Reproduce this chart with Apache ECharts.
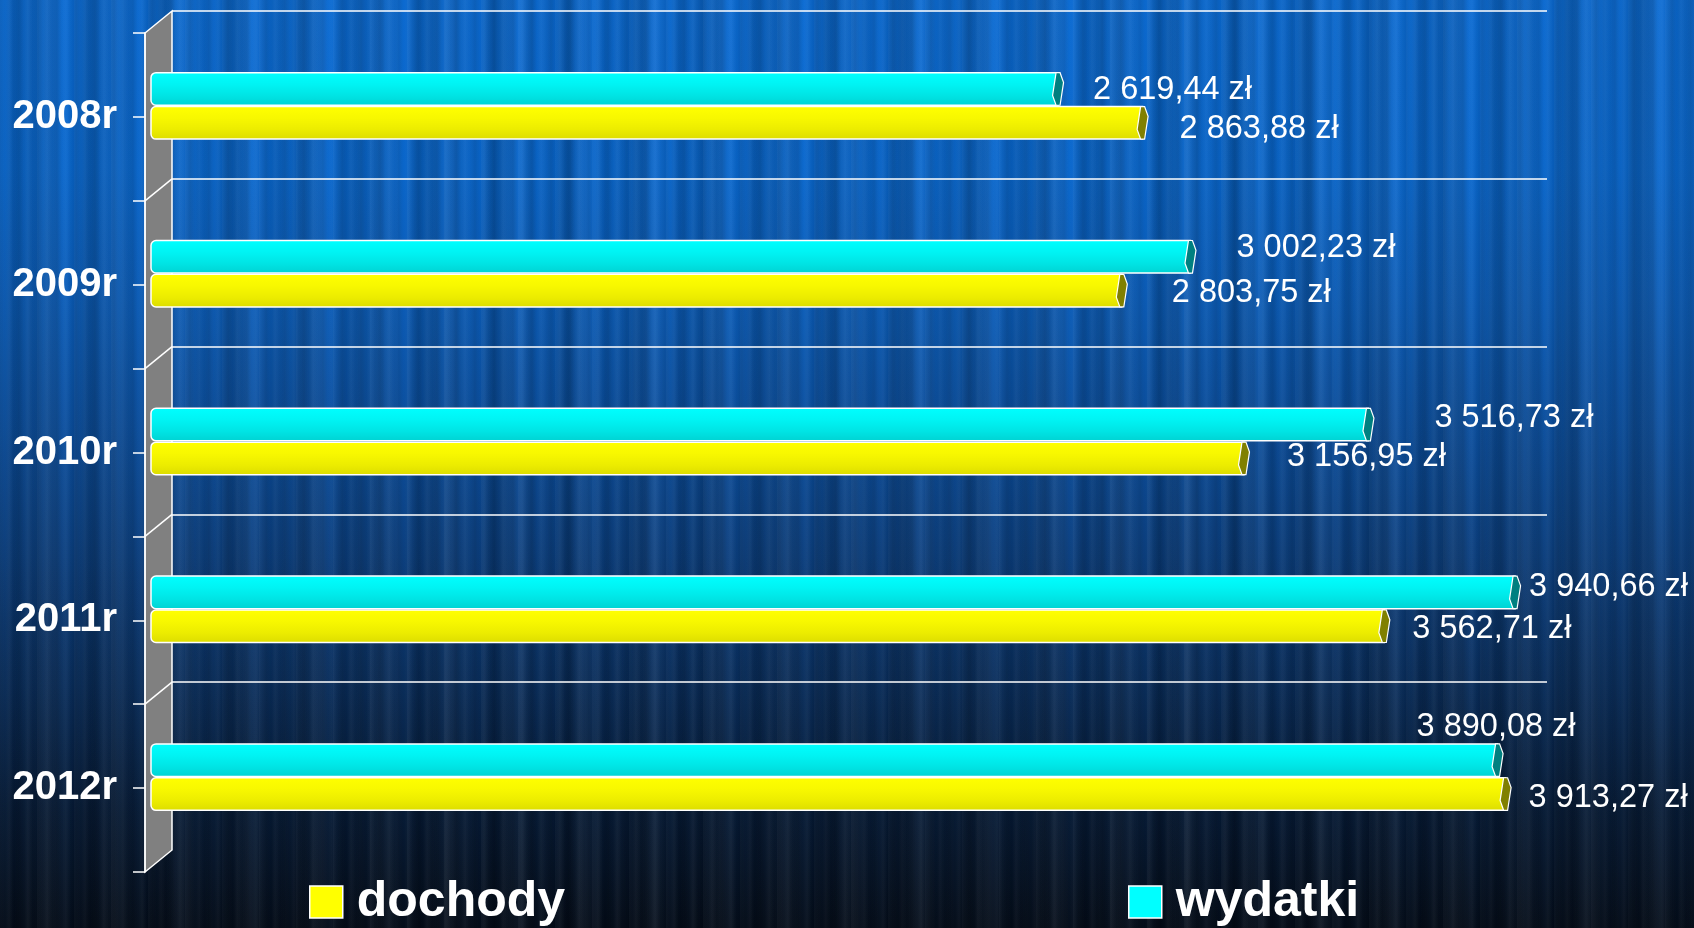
<!DOCTYPE html>
<html>
<head>
<meta charset="utf-8">
<script src="https://cdn.jsdelivr.net/npm/echarts@6/dist/echarts.min.js"></script>
<style>
html,body{margin:0;padding:0;width:1694px;height:928px;overflow:hidden;}
#bg{position:absolute;left:0;top:0;width:1694px;height:928px;
background:
 repeating-linear-gradient(90deg, rgba(0,0,0,0.10) 0px, rgba(0,0,0,0) 5px, rgba(255,255,255,0.035) 9px, rgba(0,0,0,0.05) 14px, rgba(0,0,0,0.10) 19px),
 repeating-linear-gradient(90deg, rgba(255,255,255,0.03) 0px, rgba(0,0,0,0.09) 13px, rgba(255,255,255,0.02) 27px, rgba(0,0,0,0.0) 37px),
 repeating-linear-gradient(90deg, rgba(0,0,0,0.0) 0px, rgba(0,0,0,0.12) 31px, rgba(255,255,255,0.04) 50px, rgba(0,0,0,0.0) 67px),
 linear-gradient(180deg, #0a6ad2 0%, #0866cc 18%, #0a5cb8 32%, #0a4e9e 46%, #0a3e7e 60%, #082c5a 74%, #051a36 87%, #030c19 100%);
}
#chart{position:absolute;left:0;top:0;width:1694px;height:928px;}
</style>
</head>
<body>
<div id="bg"></div>
<div id="chart"></div>
<script>
// ---- data ----
const categories = ['2008r', '2009r', '2010r', '2011r', '2012r'];
const dochody = [2863.88, 2803.75, 3156.95, 3562.71, 3913.27];
const wydatki = [2619.44, 3002.23, 3516.73, 3940.66, 3890.08];
const seriesNames = ['dochody', 'wydatki'];
const valueMax = 4000;

// ---- layout / style constants ----
const FRONT_X = 145, FRONT_TOP = 33, FRONT_H = 839;
const DX = 27, DY = 22;
const BACK_RIGHT = 1547;
const ZERO_X = 152, BAR_RIGHT = 1535.6;
const BAR_FRAC = 0.194, GAP_FRAC = 0.008;
const FONT = '"Liberation Sans", Arial, sans-serif';
// label offsets (px) from bar tip / bar centre
const labelOffW = [[30, 1], [41, -9], [61, -7], [9, -5], [-86, -33]];
const labelOffD = [[32, 6], [45, 2], [38, -1], [23, 3], [18, 4]];

function fmt(v) {
  const parts = v.toFixed(2).split('.');
  const ip = parts[0].replace(/\B(?=(\d{3})+(?!\d))/g, ' ');
  return ip + ',' + parts[1] + ' zł';
}

const styles = {
  dochody: {
    sign: 1, color: '#ffff00', cap: '#808000', offs: labelOffD,
    grad: [[0, '#ffff00'], [0.35, '#f8f800'], [0.7, '#ecec00'], [1, '#dcdc00']]
  },
  wydatki: {
    sign: -1, color: '#00ffff', cap: '#008080', offs: labelOffW,
    grad: [[0, '#00ffff'], [0.35, '#00f4f4'], [0.7, '#00e4e4'], [1, '#00d2d2']]
  }
};

function makeRender(name) {
  const st = styles[name];
  return function (params, api) {
    const val = api.value(0), ci = api.value(1);
    const p0 = api.coord([0, ci]);
    const p1 = api.coord([val, ci]);
    const band = api.size([0, 1])[1];
    const h = band * BAR_FRAC, gap = band * GAP_FRAC;
    const top = st.sign < 0 ? p0[1] - gap / 2 - h : p0[1] + gap / 2;
    const bottom = top + h;
    const cy = top + h / 2;
    const cx = p1[0];
    const grad = new echarts.graphic.LinearGradient(0, 0, 0, 1,
      st.grad.map(g => ({offset: g[0], color: g[1]})));
    const off = st.offs[params.dataIndex];
    return {
      type: 'group',
      children: [
        {
          type: 'rect',
          shape: {x: p0[0] - 1, y: top, width: cx - p0[0] + 1, height: h, r: [5, 0, 0, 5]},
          style: {fill: grad, stroke: '#ffffff', lineWidth: 1.5}
        },
        {
          type: 'polygon',
          shape: {points: [
            [cx - 2, top], [cx + 2, top], [cx + 5.5, top + h * 0.3],
            [cx + 2, bottom], [cx - 2, bottom], [cx - 5.5, top + h * 0.7]
          ]},
          style: {fill: st.cap, stroke: '#ffffff', lineWidth: 1.2}
        },
        {
          type: 'text',
          style: {
            text: fmt(val), x: cx + 5 + off[0], y: cy + off[1],
            fill: '#ffffff', font: '32.5px ' + FONT,
            align: 'left', verticalAlign: 'middle'
          },
          z2: 10
        }
      ]
    };
  };
}

// wall graphics derived from layout constants
const band = FRONT_H / categories.length;
const wallChildren = [{
  type: 'polygon',
  shape: {points: [[FRONT_X, FRONT_TOP], [FRONT_X + DX, FRONT_TOP - DY],
    [FRONT_X + DX, FRONT_TOP + FRONT_H - DY], [FRONT_X, FRONT_TOP + FRONT_H]]},
  style: {fill: '#808080', stroke: '#ffffff', lineWidth: 1.5}
}];
for (let i = 1; i < categories.length; i++) {
  const y = FRONT_TOP + band * i;
  wallChildren.push({
    type: 'line',
    shape: {x1: FRONT_X, y1: y, x2: FRONT_X + DX, y2: y - DY},
    style: {stroke: '#ffffff', lineWidth: 1.5}
  });
}

const legendCommon = {
  top: 877, padding: 0, icon: 'rect', itemWidth: 33, itemHeight: 32,
  itemStyle: {borderColor: '#ffffff', borderWidth: 1.5},
  textStyle: {color: '#ffffff', fontSize: 50, fontWeight: 'bold', fontFamily: FONT, padding: [0, 0, 0, 9]}
};

const chart = echarts.init(document.getElementById('chart'), null, {renderer: 'canvas'});
chart.setOption({
  backgroundColor: 'transparent',
  animation: false,
  textStyle: {fontFamily: FONT},
  graphic: [{type: 'group', z: 0, children: wallChildren}],
  grid: [
    // back plane (gridlines)
    {left: FRONT_X + DX, top: FRONT_TOP - DY, width: BACK_RIGHT - FRONT_X - DX,
      height: band * (categories.length - 1)},
    // front axis (labels + ticks)
    {left: FRONT_X, top: FRONT_TOP, width: 10, height: FRONT_H},
    // bars (mid depth)
    {left: ZERO_X, top: FRONT_TOP - DY / 2, width: BAR_RIGHT - ZERO_X, height: FRONT_H}
  ],
  xAxis: [
    {gridIndex: 0, type: 'value', show: false, min: 0, max: valueMax},
    {gridIndex: 1, type: 'value', show: false, min: 0, max: 1},
    {gridIndex: 2, type: 'value', show: false, min: 0, max: valueMax}
  ],
  yAxis: [
    {gridIndex: 0, type: 'value', min: 0, max: categories.length - 1, interval: 1,
      axisLine: {show: false}, axisTick: {show: false}, axisLabel: {show: false},
      splitLine: {show: true, lineStyle: {color: '#ffffff', width: 1.6}}},
    {gridIndex: 1, type: 'category', inverse: true, data: categories,
      axisLine: {show: true, lineStyle: {color: '#ffffff', width: 1.5}},
      axisTick: {show: false},
      axisLabel: {color: '#ffffff', fontSize: 40, fontWeight: 'bold', fontFamily: FONT, margin: 28},
      splitLine: {show: false}},
    {gridIndex: 1, type: 'value', min: 0, max: categories.length * 2, interval: 1, position: 'left',
      axisLine: {show: false},
      axisTick: {show: true, length: 12, lineStyle: {color: '#ffffff', width: 1.5}},
      axisLabel: {show: false}, splitLine: {show: false}},
    {gridIndex: 2, type: 'category', inverse: true, data: categories, show: false}
  ],
  legend: [
    Object.assign({data: [seriesNames[0]], left: 309}, legendCommon),
    Object.assign({data: [seriesNames[1]], left: 1128}, legendCommon)
  ],
  series: [
    {
      name: 'wydatki', type: 'custom', xAxisIndex: 2, yAxisIndex: 3, z: 5,
      itemStyle: {color: '#00ffff'},
      encode: {x: 0, y: 1},
      renderItem: makeRender('wydatki'),
      data: wydatki.map((v, i) => [v, i])
    },
    {
      name: 'dochody', type: 'custom', xAxisIndex: 2, yAxisIndex: 3, z: 5,
      itemStyle: {color: '#ffff00'},
      encode: {x: 0, y: 1},
      renderItem: makeRender('dochody'),
      data: dochody.map((v, i) => [v, i])
    }
  ]
});
</script>
</body>
</html>
